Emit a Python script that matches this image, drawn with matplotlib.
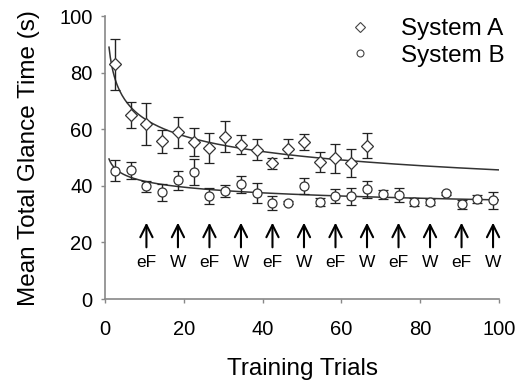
import numpy as np
import matplotlib
matplotlib.use("Agg")
import matplotlib.pyplot as plt
from matplotlib.lines import Line2D

plt.rcParams['font.family'] = ['Liberation Sans', 'DejaVu Sans']

# ---- data ----
trials_a = [2.5, 6.5, 10.5, 14.5, 18.5, 22.5, 26.5, 30.5, 34.5, 38.5, 42.5, 46.5,
            50.5, 54.5, 58.5, 62.5, 66.5]
glance_a = [83, 65, 62, 55.7, 59, 55.5, 53.3, 57.3, 54.6, 52.8, 48, 53.2,
            55.5, 48.5, 49.7, 48.2, 54.2]
err_a = [9, 4.6, 7.4, 4, 5.5, 5, 5.3, 5.5, 3.2, 3.7, 2, 3.5,
         2.8, 3.5, 5, 5, 4.5]

trials_b = [2.5, 6.5, 10.5, 14.5, 18.5, 22.5, 26.5, 30.5, 34.5, 38.5, 42.5, 46.5,
            50.5, 54.5, 58.5, 62.5, 66.5, 70.5, 74.5, 78.5, 82.5, 86.5, 90.5, 94.5, 98.5]
glance_b = [45.3, 45.6, 39.8, 37.8, 42, 45, 36.4, 38.2, 40.6, 37.5, 34, 34,
            40, 34.3, 36.4, 36.4, 38.8, 37, 36.7, 34.3, 34.3, 37.4, 33.5, 35.3, 35]
err_b = [3.7, 3, 2, 3, 3.4, 4.6, 2.8, 2, 3, 3.5, 2.5, 0.5,
         2.7, 1.5, 2.5, 3, 3, 1.5, 2.5, 1.5, 1, 0.5, 1.5, 1.5, 3]

# power-law trend lines y = a * x^b
fit_a = (89.0, -0.145)
fit_b = (49.5, -0.075)

arrow_x = [10.5, 18.5, 26.5, 34.5, 42.5, 50.5, 58.5, 66.5, 74.5, 82.5, 90.5, 98.5]
arrow_labels = ['eF', 'W'] * 6

series_names = ['System A', 'System B']
xticks = [0, 20, 40, 60, 80, 100]
yticks = [0, 20, 40, 60, 80, 100]

# ---- figure ----
fig = plt.figure(figsize=(5.28, 3.82), dpi=100)
ax = fig.add_axes([0.199, 0.217, 0.746, 0.741])

xx = np.linspace(1, 100, 300)
ax.plot(xx, fit_a[0] * xx ** fit_a[1], color='#333333', lw=1.1, zorder=2)
ax.plot(xx, fit_b[0] * xx ** fit_b[1], color='#333333', lw=1.1, zorder=2)

ax.errorbar(trials_a, glance_a, yerr=err_a, fmt='D', ms=6.5, mfc='white',
            mec='#333333', mew=0.9, ecolor='#222222', elinewidth=1.0,
            capsize=3.5, capthick=1.2, zorder=3)
ax.errorbar(trials_b, glance_b, yerr=err_b, fmt='o', ms=6.5, mfc='white',
            mec='#333333', mew=0.9, ecolor='#222222', elinewidth=1.0,
            capsize=3.5, capthick=1.2, zorder=3)

for x, lab in zip(arrow_x, arrow_labels):
    ax.annotate('', xy=(x, 27), xytext=(x, 18.3),
                arrowprops=dict(arrowstyle='->', color='black', lw=1.5,
                                mutation_scale=22, shrinkA=0, shrinkB=0))
    ax.text(x, 13, lab, ha='center', va='center', fontsize=12.5)

ax.set_xlim(0, 100)
ax.set_ylim(0, 100)
ax.set_xticks(xticks)
ax.set_yticks(yticks)
ax.tick_params(labelsize=14.5, length=3, color='#888888', width=1)
ax.tick_params(axis='x', pad=12)
ax.tick_params(axis='y', pad=6)
for s in ['top', 'right']:
    ax.spines[s].set_visible(False)
for s in ['left', 'bottom']:
    ax.spines[s].set_color('#888888')
    ax.spines[s].set_linewidth(1.2)

ax.set_xlabel('Training Trials', fontsize=17.5, labelpad=14)
ax.set_ylabel('Mean Total Glance Time (s)', fontsize=17.5, labelpad=14)

handles = [Line2D([], [], ls='none', marker='D', ms=5, mfc='white', mec='#444444', mew=0.8),
           Line2D([], [], ls='none', marker='o', ms=5, mfc='white', mec='#444444', mew=0.8)]
ax.legend(handles, series_names, loc='upper right', bbox_to_anchor=(1.07, 1.07),
          frameon=False, fontsize=17.5, handlelength=1.0, handletextpad=1.2,
          labelspacing=0.2)

fig.savefig('out.png', dpi=100)
